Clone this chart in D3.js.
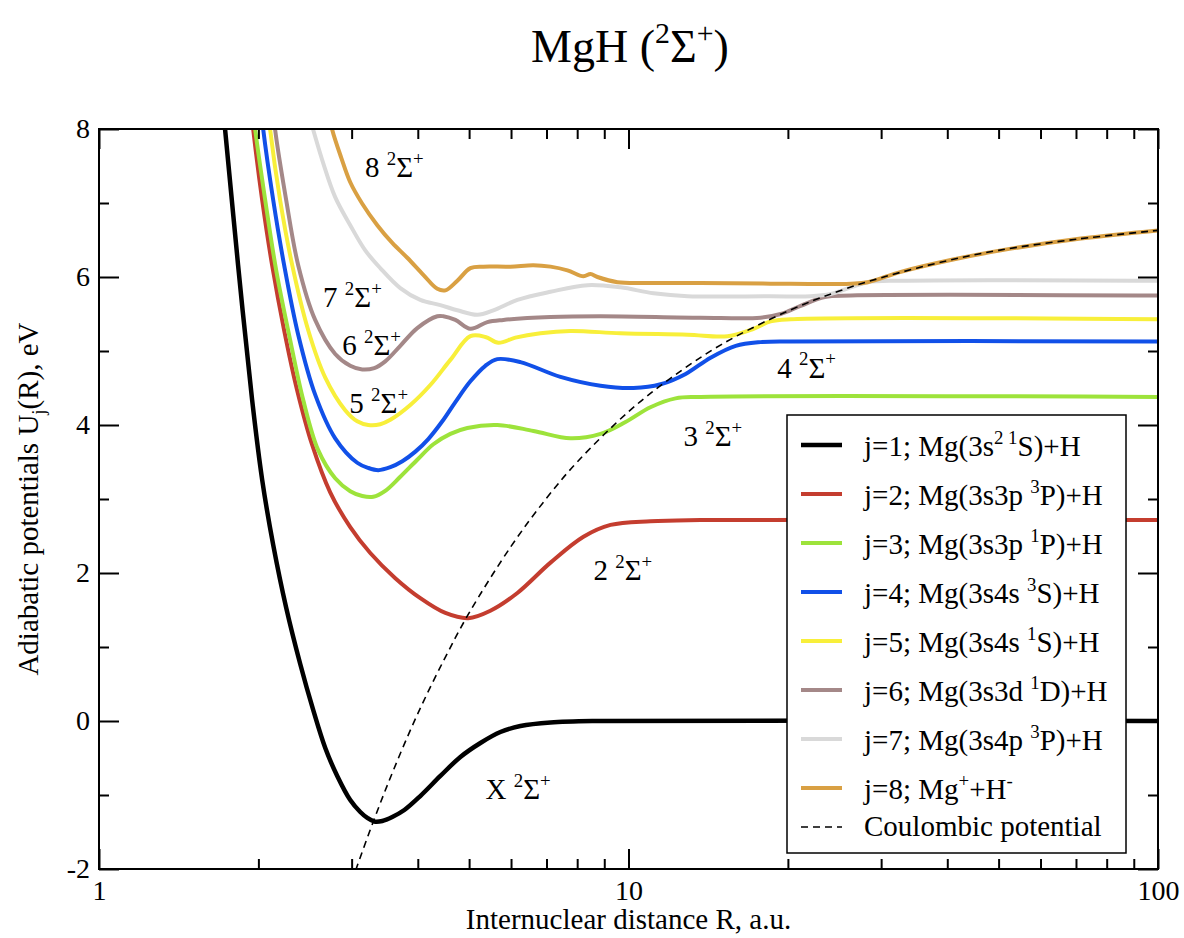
<!DOCTYPE html>
<html>
<head>
<meta charset="utf-8">
<script src="https://cdn.jsdelivr.net/npm/d3@7"></script>
<style>
  body { margin: 0; background: #fff; }
  text { font-family: "Liberation Serif", "DejaVu Serif", serif; fill: #000; }
</style>
</head>
<body>
<script>
(function () {
  var svg, plot, x, y, line, width, height, fs;

  // --- data: R (a.u.) and U (eV) ---
  var r1 = [1.70, 1.73, 1.831, 1.946, 2.033, 2.133, 2.257, 2.399, 2.538, 2.675, 2.818, 2.982, 3.115, 3.212, 3.310, 3.428, 3.580, 3.773, 4.044, 4.413, 4.814, 5.252, 5.728, 6.250, 7.123, 8.854, 100];
  var u1 = [8.5, 8.0, 6.16, 4.34, 3.26, 2.38, 1.53, 0.77, 0.15, -0.365, -0.743, -1.068, -1.23, -1.31, -1.358, -1.351, -1.297, -1.203, -1.014, -0.743, -0.486, -0.297, -0.149, -0.068, -0.02, 0, 0];

  var r2 = [1.921, 1.955, 2.033, 2.123, 2.237, 2.367, 2.527, 2.733, 2.982, 3.253, 3.627, 4.044, 4.510, 4.984, 5.484, 6.168, 7.123, 8.221, 9.247, 11.0, 13.68, 100];
  var u2 = [8.53, 8.0, 7.04, 6.16, 5.28, 4.47, 3.73, 3.09, 2.62, 2.27, 1.93, 1.66, 1.46, 1.39, 1.49, 1.73, 2.14, 2.49, 2.65, 2.70, 2.715, 2.715];

  var r3 = [1.94, 1.972, 2.060, 2.161, 2.296, 2.430, 2.594, 2.793, 2.982, 3.142, 3.296, 3.472, 3.707, 3.991, 4.280, 4.609, 4.962, 5.654, 6.614, 7.770, 8.854, 9.87, 11.0, 12.27, 13.68, 100];
  var u3 = [8.5, 8.0, 7.04, 6.09, 5.15, 4.34, 3.66, 3.28, 3.105, 3.04, 3.03, 3.11, 3.30, 3.53, 3.74, 3.88, 3.96, 4.0, 3.92, 3.82, 3.88, 4.04, 4.24, 4.36, 4.38, 4.38];

  var r4 = [2.007, 2.042, 2.133, 2.237, 2.378, 2.560, 2.793, 3.074, 3.225, 3.369, 3.550, 3.740, 3.958, 4.187, 4.450, 4.710, 5.028, 5.366, 5.654, 6.250, 7.439, 8.854, 10.22, 11.5, 12.82, 14.29, 15.94, 17.76, 20.24, 100];
  var u4 = [8.53, 8.0, 7.04, 6.16, 5.22, 4.41, 3.82, 3.49, 3.42, 3.39, 3.43, 3.51, 3.64, 3.81, 4.05, 4.31, 4.59, 4.80, 4.89, 4.85, 4.65, 4.53, 4.50, 4.55, 4.69, 4.91, 5.07, 5.12, 5.13, 5.13];

  var r5 = [2.069, 2.105, 2.198, 2.317, 2.484, 2.675, 2.917, 3.074, 3.225, 3.398, 3.550, 3.872, 4.224, 4.609, 5.028, 5.366, 5.679, 6.114, 6.819, 7.770, 9.658, 12.93, 15.39, 17.23, 18.55, 20.24, 100];
  var u5 = [8.53, 7.99, 7.04, 6.16, 5.28, 4.64, 4.20, 4.05, 4.0, 4.01, 4.07, 4.27, 4.54, 4.88, 5.20, 5.19, 5.11, 5.18, 5.24, 5.27, 5.24, 5.22, 5.20, 5.30, 5.40, 5.43, 5.43];

  var r6 = [2.114, 2.151, 2.257, 2.378, 2.560, 2.793, 2.982, 3.142, 3.310, 3.472, 3.707, 3.991, 4.355, 4.470, 4.710, 5.028, 5.413, 5.803, 7.123, 8.854, 13.68, 17.76, 19.38, 21.14, 23.48, 26.29, 100];
  var u6 = [8.53, 7.99, 7.04, 6.16, 5.42, 4.96, 4.80, 4.75, 4.77, 4.86, 5.07, 5.31, 5.47, 5.47, 5.42, 5.30, 5.39, 5.42, 5.46, 5.47, 5.45, 5.45, 5.50, 5.61, 5.73, 5.75, 5.75];

  var r7 = [2.462, 2.538, 2.651, 2.793, 2.982, 3.183, 3.398, 3.707, 4.044, 4.413, 4.751, 5.184, 5.557, 6.168, 7.123, 8.367, 9.658, 11.15, 12.93, 18.55, 22.08, 24.09, 26.29, 28.30, 32.68, 100];
  var u7 = [8.32, 7.99, 7.54, 7.08, 6.70, 6.36, 6.12, 5.85, 5.69, 5.62, 5.55, 5.49, 5.55, 5.69, 5.80, 5.89, 5.86, 5.78, 5.74, 5.74, 5.74, 5.77, 5.86, 5.93, 5.95, 5.95];

  var r8 = [2.710, 2.757, 2.868, 2.982, 3.142, 3.354, 3.580, 3.821, 4.097, 4.355, 4.510, 4.751, 5.028, 5.321, 5.983, 6.614, 7.123, 7.669, 8.221, 8.477, 8.739, 9.533, 11.0, 13.68, 18.55, 26.29, 28.3, 32.68, 40.6, 50.5, 71.5, 100];
  var u8 = [8.26, 7.99, 7.61, 7.28, 6.99, 6.70, 6.46, 6.26, 6.03, 5.84, 5.82, 5.95, 6.12, 6.14, 6.14, 6.16, 6.14, 6.09, 6.01, 6.04, 6.0, 5.93, 5.92, 5.92, 5.91, 5.91, 5.93, 6.07, 6.23, 6.36, 6.52, 6.63];

  var rCoul = [3.0, 3.3, 3.6, 4.0, 4.5, 5.0, 6.0, 7.0, 8.0, 10, 12, 15, 20, 25, 30, 40, 50, 70, 100];
  var uCoul = [-2.17, -1.35, -0.66, 0.10, 0.85, 1.46, 2.36, 3.01, 3.50, 4.18, 4.63, 5.09, 5.54, 5.81, 5.99, 6.22, 6.36, 6.51, 6.63];

  var seriesR = [r1, r2, r3, r4, r5, r6, r7, r8];
  var seriesU = [u1, u2, u3, u4, u5, u6, u7, u8];

  var legendLabels = [
    'j=1; Mg(3s^{2 1}S)+H',
    'j=2; Mg(3s3p ^{3}P)+H',
    'j=3; Mg(3s3p ^{1}P)+H',
    'j=4; Mg(3s4s ^{3}S)+H',
    'j=5; Mg(3s4s ^{1}S)+H',
    'j=6; Mg(3s3d ^{1}D)+H',
    'j=7; Mg(3s4p ^{3}P)+H',
    'j=8; Mg^{+}+H^{-}',
    'Coulombic potential'
  ];
  var colors = ['#000000', '#c43d2f', '#9de33b', '#1150e8', '#f8ef3a', '#a48888', '#d9d9d9', '#d9a043'];

  // state labels, anchored in data coordinates (R, U)
  var stateLabels = ['X ^{2}Σ^{+}', '2 ^{2}Σ^{+}', '3 ^{2}Σ^{+}', '4 ^{2}Σ^{+}', '5 ^{2}Σ^{+}', '6 ^{2}Σ^{+}', '7 ^{2}Σ^{+}', '8 ^{2}Σ^{+}'];
  var stateLabelR = [5.37, 8.59, 12.7, 19.1, 2.97, 2.88, 2.65, 3.18];
  var stateLabelU = [-1.05, 1.9, 3.72, 4.64, 4.16, 4.95, 5.59, 7.35];

  var xMajor = [1, 10, 100];
  var xMinor = [2, 3, 4, 5, 6, 7, 8, 9, 20, 30, 40, 50, 60, 70, 80, 90];
  var yMajor = [-2, 0, 2, 4, 6, 8];
  var yMinor = [-1, 1, 3, 5, 7];

  width = 1184;
  height = 938;
  fs = 29;

  x = d3.scaleLog().domain([1, 100]).range([99, 1158]);
  y = d3.scaleLinear().domain([-2, 8]).range([869, 129]);

  svg = d3.select('body').append('svg')
    .attr('width', width)
    .attr('height', height);

  // text with ^{..} superscripts and _{..} subscripts
  function rich(sel, str, size) {
    var parts = str.split(/([\^_]\{[^}]*\})/);
    var off = 0;
    parts.forEach(function (p) {
      if (!p) return;
      if (p[0] === '^' || p[0] === '_') {
        var target = p[0] === '^' ? -size * 0.42 : size * 0.25;
        sel.append('tspan').attr('font-size', size * 0.65)
          .attr('dy', target - off).text(p.slice(2, -1));
        off = target;
      } else {
        sel.append('tspan').attr('font-size', size)
          .attr('dy', -off).text(p);
        off = 0;
      }
    });
  }

  svg.append('defs').append('clipPath').attr('id', 'clip')
    .append('rect')
    .attr('x', x(1)).attr('y', y(8))
    .attr('width', x(100) - x(1)).attr('height', y(-2) - y(8));

  line = d3.line()
    .x(function (d) { return x(d[0]); })
    .y(function (d) { return y(d[1]); })
    .curve(d3.curveCatmullRom.alpha(0.5));

  plot = svg.append('g').attr('clip-path', 'url(#clip)');

  seriesR.forEach(function (rs, i) {
    var pts = rs.map(function (r, k) { return [r, seriesU[i][k]]; });
    plot.append('path')
      .datum(pts)
      .attr('d', line)
      .attr('fill', 'none')
      .attr('stroke', colors[i])
      .attr('stroke-width', i === 0 ? 4.5 : 4)
      .attr('stroke-linejoin', 'round');
  });

  plot.append('path')
    .datum(rCoul.map(function (r, k) { return [r, uCoul[k]]; }))
    .attr('d', line)
    .attr('fill', 'none')
    .attr('stroke', '#000')
    .attr('stroke-width', 1.6)
    .attr('stroke-dasharray', '7,5');

  // axes: ticks point inward on all four sides
  function fmt(d) { return String(d); }
  function addAxis(axis, tx, ty) {
    var g = svg.append('g')
      .attr('transform', 'translate(' + tx + ',' + ty + ')')
      .call(axis);
    g.select('.domain').remove();
    g.selectAll('line').attr('stroke-width', 2);
    g.selectAll('text').attr('font-size', 28).style('font-family', '"Liberation Serif", serif');
    return g;
  }

  addAxis(d3.axisBottom(x).tickValues(xMajor).tickFormat(fmt).tickSize(-20).tickPadding(11), 0, y(-2));
  addAxis(d3.axisBottom(x).tickValues(xMinor).tickFormat('').tickSize(-10), 0, y(-2));
  addAxis(d3.axisTop(x).tickValues(xMajor).tickFormat('').tickSize(-20), 0, y(8));
  addAxis(d3.axisTop(x).tickValues(xMinor).tickFormat('').tickSize(-10), 0, y(8));
  addAxis(d3.axisLeft(y).tickValues(yMajor).tickFormat(fmt).tickSize(-20).tickPadding(9), x(1), 0);
  addAxis(d3.axisLeft(y).tickValues(yMinor).tickFormat('').tickSize(-10), x(1), 0);
  addAxis(d3.axisRight(y).tickValues(yMajor).tickFormat('').tickSize(-20), x(100), 0);
  addAxis(d3.axisRight(y).tickValues(yMinor).tickFormat('').tickSize(-10), x(100), 0);

  svg.append('rect')
    .attr('x', x(1)).attr('y', y(8))
    .attr('width', x(100) - x(1)).attr('height', y(-2) - y(8))
    .attr('fill', 'none').attr('stroke', '#000').attr('stroke-width', 2);

  // state labels
  stateLabels.forEach(function (s, i) {
    var t = svg.append('text')
      .attr('x', x(stateLabelR[i]))
      .attr('y', y(stateLabelU[i]));
    rich(t, s, fs);
  });

  // titles
  rich(svg.append('text').attr('x', 630).attr('y', 62).attr('text-anchor', 'middle'),
    'MgH (^{2}Σ^{+})', 46);

  rich(svg.append('text').attr('x', (x(1) + x(100)) / 2).attr('y', 929).attr('text-anchor', 'middle'),
    'Internuclear distance R, a.u.', fs);

  rich(svg.append('text').attr('text-anchor', 'middle')
    .attr('transform', 'translate(38,' + ((y(8) + y(-2)) / 2) + ') rotate(-90)'),
    'Adiabatic potentials U_{j}(R), eV', fs);

  // legend
  var lg = svg.append('g');
  lg.append('rect')
    .attr('x', 787).attr('y', 415).attr('width', 339).attr('height', 438)
    .attr('fill', '#fff').attr('stroke', '#000').attr('stroke-width', 1.5);

  legendLabels.forEach(function (s, i) {
    var ly = i < 8 ? 445 + i * 49 : 827;
    lg.append('line')
      .attr('x1', 801).attr('x2', 842).attr('y1', ly).attr('y2', ly)
      .attr('stroke', i < 8 ? colors[i] : '#000')
      .attr('stroke-width', i < 8 ? (i === 0 ? 4.5 : 4) : 1.6)
      .attr('stroke-dasharray', i < 8 ? null : '7,5');
    rich(lg.append('text').attr('x', 864).attr('y', ly + (i < 8 ? 11 : 9)), s, fs);
  });
}());
</script>
</body>
</html>
